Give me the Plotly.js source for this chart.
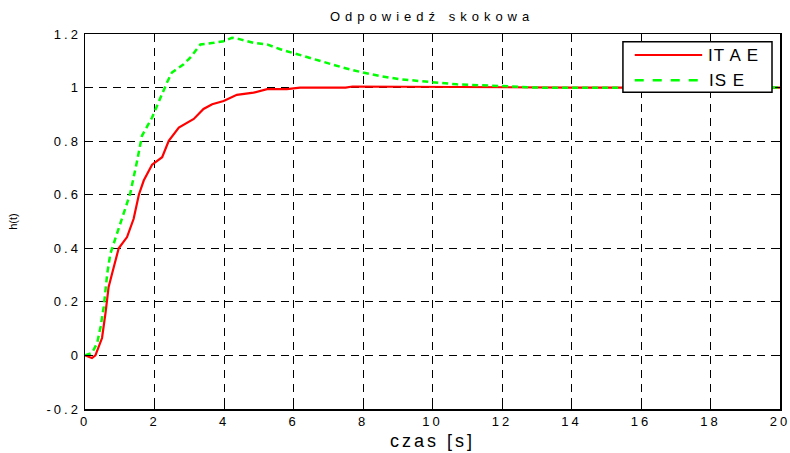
<!DOCTYPE html>
<html>
<head>
<meta charset="utf-8">
<script src="https://cdn.plot.ly/plotly-3.0.1.min.js"></script>
<style>
html,body{margin:0;padding:0;background:#fff;}
#chart{width:790px;height:453px;}
#chart .xtick text, #chart .ytick text{letter-spacing:3px;}
#chart .gtitle{letter-spacing:5px;}
#chart .xtitle{letter-spacing:3px;}
#chart .annotation-text{letter-spacing:1px;}
</style>
</head>
<body>
<div id="chart"></div>
<script>
const seriesNames = ['IT A E', 'IS E'];
const itaeT = [0, 0.2, 0.3, 0.39, 0.49, 0.59, 0.68, 0.78, 0.97, 1.21, 1.4, 1.55, 1.69, 1.93, 2.22, 2.41, 2.7, 3.13, 3.41, 3.66, 3.99, 4.37, 4.85, 5.24, 5.81, 6.19, 7.5, 7.7, 9, 11, 12, 14, 16, 18, 20];
const itaeH = [0, -0.01, 0, 0.033, 0.065, 0.158, 0.256, 0.306, 0.4, 0.442, 0.51, 0.6, 0.653, 0.712, 0.74, 0.801, 0.851, 0.883, 0.92, 0.938, 0.95, 0.973, 0.981, 0.994, 0.994, 1.0, 1.0, 1.004, 1.003, 1.002, 1.0, 1.0, 1.0, 1.0, 1.0];
const iseT = [0, 0.2, 0.35, 0.45, 0.54, 0.64, 0.73, 0.83, 0.97, 1.12, 1.3, 1.5, 1.64, 1.93, 2.17, 2.36, 2.5, 2.84, 3.03, 3.32, 3.7, 3.99, 4.23, 4.47, 4.85, 5.24, 5.62, 6.0, 6.58, 7.44, 8.0, 8.49, 9.07, 10.02, 10.7, 11.94, 12.9, 14, 16, 18, 20];
const iseH = [0, 0.009, 0.046, 0.108, 0.182, 0.306, 0.38, 0.418, 0.48, 0.535, 0.604, 0.727, 0.82, 0.888, 0.963, 1.019, 1.056, 1.087, 1.112, 1.161, 1.167, 1.173, 1.186, 1.18, 1.167, 1.161, 1.143, 1.128, 1.106, 1.074, 1.056, 1.043, 1.031, 1.019, 1.012, 1.006, 1.0, 0.999, 1.0, 1.0, 1.0];
const xTicks = [0, 2, 4, 6, 8, 10, 12, 14, 16, 18, 20];
const yTicks = [-0.2, 0, 0.2, 0.4, 0.6, 0.8, 1, 1.2];
const yTickLabels = ['-0.2', '0', '0.2', '0.4', '0.6', '0.8', '1', '1.2'];

const colors = ['#ff0000', '#00ff00'];
const dashes = ['solid', '6px,4px'];
const widths = [2.2, 2.5];

const traces = [
  {x: itaeT, y: itaeH, name: seriesNames[0], type: 'scatter', mode: 'lines',
   line: {color: colors[0], width: widths[0]}, showlegend: false},
  {x: iseT, y: iseH, name: seriesNames[1], type: 'scatter', mode: 'lines',
   line: {color: colors[1], width: widths[1], dash: dashes[1]}, showlegend: false}
];

const FONT = 'Liberation Sans, Arial, sans-serif';
const axCommon = {
  showline: true, linecolor: '#000', linewidth: 1.5, mirror: 'ticks',
  ticks: 'inside', ticklen: 5, tickcolor: '#000',
  showgrid: true, gridcolor: '#000', gridwidth: 1, griddash: '8px,6px',
  zeroline: false,
  tickfont: {family: FONT, size: 13, color: '#000'}
};

// custom legend box (paper coordinates)
const lg = {x0: 0.774, x1: 0.9885, y0: 0.8445, y1: 0.9795, lx0: 0.791, lx1: 0.888, tx: 0.898, rows: [0.944, 0.877]};
const shapes = [
  {type: 'rect', xref: 'paper', yref: 'paper', x0: lg.x0, x1: lg.x1, y0: lg.y0, y1: lg.y1,
   fillcolor: '#fff', line: {color: '#000', width: 1.5}, layer: 'above'}
];
const annotations = [];
seriesNames.forEach((n, i) => {
  shapes.push({type: 'line', xref: 'paper', yref: 'paper', x0: lg.lx0, x1: lg.lx1, y0: lg.rows[i], y1: lg.rows[i],
    line: {color: colors[i], width: widths[i], dash: i === 1 ? 'dash' : 'solid'}, layer: 'above'});
  annotations.push({xref: 'paper', yref: 'paper', x: lg.tx, y: lg.rows[i], xanchor: 'left', yanchor: 'middle',
    text: n, showarrow: false, font: {family: FONT, size: 17, color: '#000'}});
});

const layout = {
  width: 790, height: 453,
  margin: {l: 85, r: 10, t: 34, b: 44},
  paper_bgcolor: '#fff', plot_bgcolor: '#fff',
  title: {text: 'Odpowiedź skokowa', x: 0.547, xanchor: 'center', y: 0.963, yanchor: 'middle',
          font: {family: FONT, size: 13, color: '#000'}},
  xaxis: Object.assign({}, axCommon, {
    range: [0, 20], tickvals: xTicks, ticktext: xTicks.map(String),
    title: {text: 'czas [s]', standoff: 6, font: {family: FONT, size: 18, color: '#000'}}
  }),
  yaxis: Object.assign({}, axCommon, {
    range: [-0.2, 1.2], tickvals: yTicks, ticktext: yTickLabels,
    title: {text: 'h(t)', standoff: 38, font: {family: FONT, size: 11, color: '#000'}}
  }),
  showlegend: false,
  shapes: shapes,
  annotations: annotations
};

Plotly.newPlot('chart', traces, layout, {displayModeBar: false, staticPlot: true});
</script>
</body>
</html>
